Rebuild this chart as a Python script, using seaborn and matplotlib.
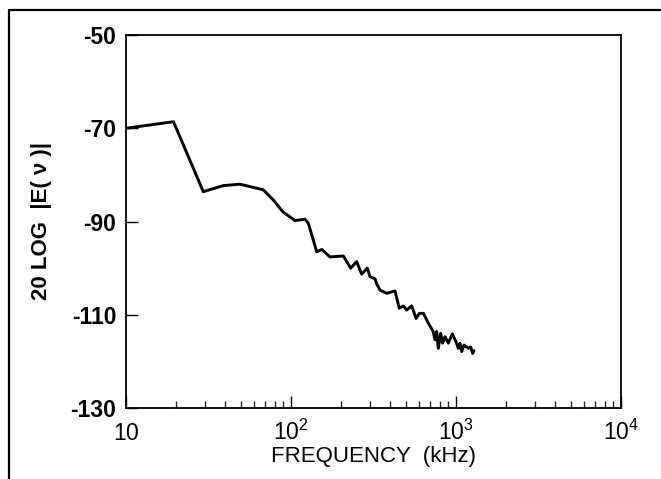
import numpy as np
import pandas as pd
import matplotlib
matplotlib.use("Agg")
import matplotlib.pyplot as plt
from matplotlib.lines import Line2D
from matplotlib.ticker import FixedLocator, NullFormatter
import seaborn as sns

# ---------- data ----------
freq_khz = [10, 19.4, 29.4, 38.9, 49.1, 67.9, 78.2, 89.1, 105.7, 121.6,
            127.4, 143.2, 153.5, 172.3, 207.5, 230, 250, 268, 290, 301,
            323, 330, 346, 380, 427, 453, 480, 502, 539, 573,
            600, 634, 680, 728, 746, 764, 781, 807, 830, 857,
            898, 950, 1000, 1033, 1057, 1083, 1117, 1188, 1227, 1262, 1285]
level_db = [-70.0, -68.6, -83.6, -82.3, -82.0, -83.2, -85.4, -87.9, -89.8, -89.5,
            -90.4, -96.5, -96.0, -97.6, -97.4, -100.0, -98.6, -101.3, -100.0, -101.8,
            -102.3, -103.3, -104.7, -105.4, -104.9, -108.6, -108.1, -109.0, -108.1, -110.8,
            -109.7, -109.7, -111.8, -113.6, -115.4, -113.6, -117.2, -114.0, -116.1, -114.7,
            -116.1, -114.1, -115.8, -117.2, -116.1, -117.9, -116.5, -117.2, -116.9, -118.3, -117.7]

x_major = [10, 100, 1000, 10000]
x_labels = [r'$\mathregular{10}$', r'$\mathregular{10^2}$',
            r'$\mathregular{10^3}$', r'$\mathregular{10^4}$']
y_ticks = [-50, -70, -90, -110, -130]

df = pd.DataFrame({'freq': freq_khz, 'level': level_db})

sns.set_theme(style="white")
plt.rcParams['font.family'] = ['Liberation Sans', 'DejaVu Sans']
plt.rcParams['mathtext.default'] = 'regular'

fig = plt.figure(figsize=(6.61, 4.79), dpi=100)
ax = fig.add_axes([126 / 661, 1 - 408 / 479, 495 / 661, 373 / 479])

sns.lineplot(data=df, x='freq', y='level', color='black', linewidth=2.1,
             estimator=None, ax=ax)

ax.set_xscale('log')
ax.set_xlim(10, 10000)
ax.set_ylim(-130, -50)

minor = [m * d for d in (10, 100, 1000) for m in range(2, 10)]
ax.xaxis.set_major_locator(FixedLocator(x_major))
ax.xaxis.set_minor_locator(FixedLocator(minor))
ax.xaxis.set_minor_formatter(NullFormatter())
ax.set_xticks(x_major)
ax.set_xticklabels(x_labels)
ax.set_yticks(y_ticks)
ax.set_yticklabels([str(v) for v in y_ticks], fontweight='bold')

ax.tick_params(axis='x', which='major', direction='in', length=8.5, width=1.0,
               bottom=True, top=False, labelsize=16.5, pad=23, colors='black')
ax.tick_params(axis='x', which='minor', direction='in', length=5, width=1.0,
               bottom=True, top=False)
ax.tick_params(axis='y', which='major', direction='in', length=8.5, width=1.0,
               left=True, right=False, labelsize=16.5, pad=7, colors='black')
for lab in ax.get_xticklabels():
    lab.set_verticalalignment('baseline')

for s in ax.spines.values():
    s.set_color('black')
    s.set_linewidth(1.3)

ax.set_xlabel('FREQUENCY  (kHz)', fontsize=16, labelpad=1, color='black')
ax.set_ylabel('20 LOG  |E( ν )|', fontsize=16, fontweight='bold', labelpad=13,
              color='black')

# outer frame of the scanned figure
fig.add_artist(Line2D([9 / 661, 9 / 661], [0, 1 - 10 / 479], transform=fig.transFigure,
                      color='black', linewidth=1.6))
fig.add_artist(Line2D([9 / 661, 1], [1 - 10 / 479, 1 - 10 / 479], transform=fig.transFigure,
                      color='black', linewidth=1.6))

fig.savefig('out.png', dpi=100)
